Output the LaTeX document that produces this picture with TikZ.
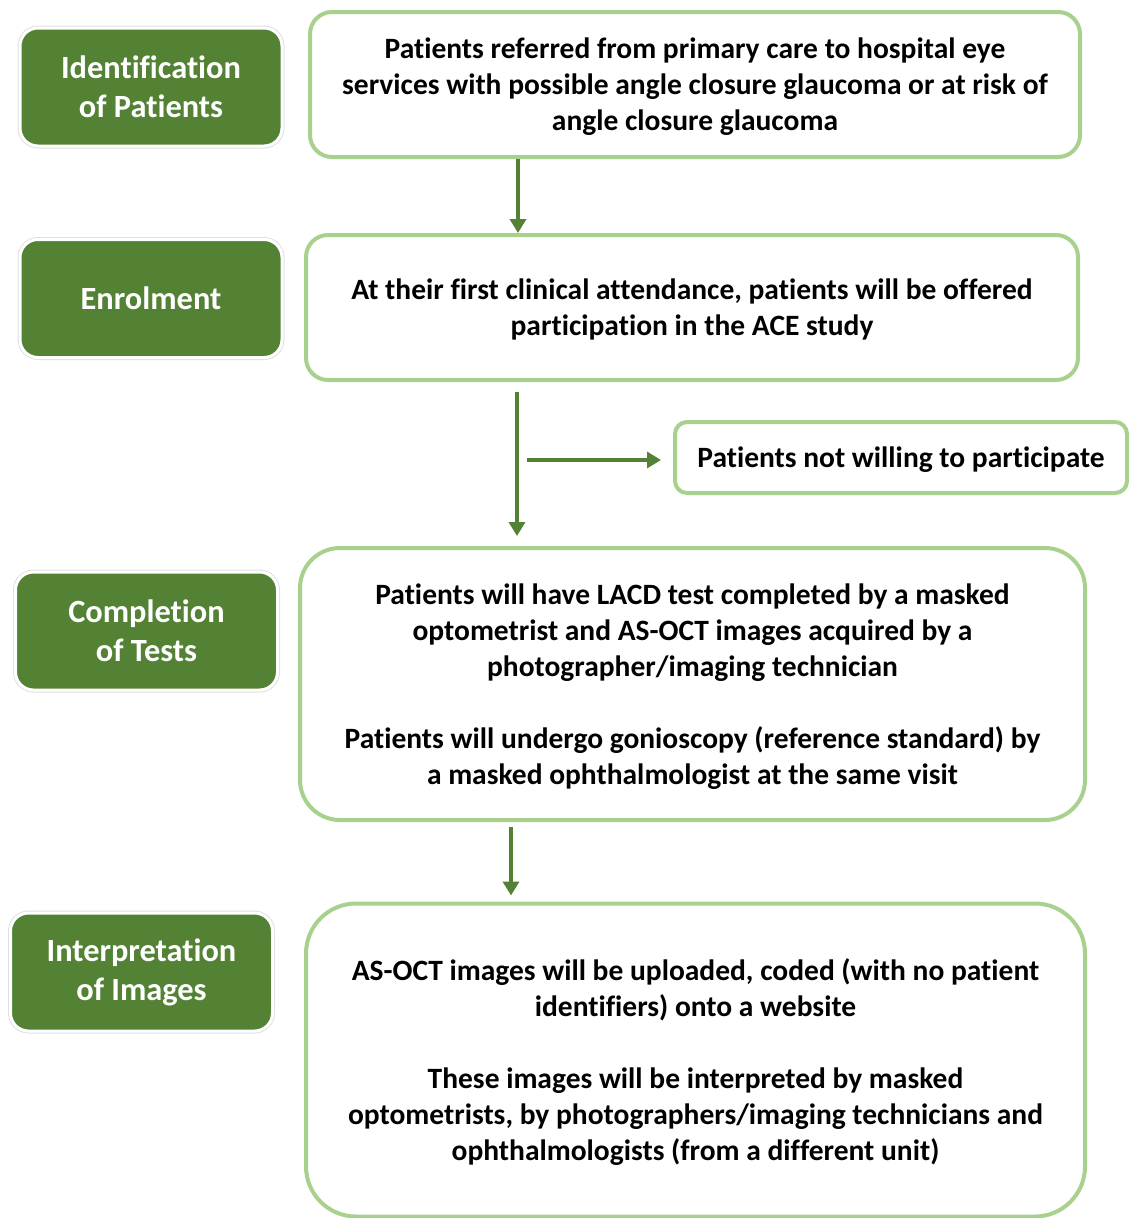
\documentclass[tikz,border=0pt]{standalone}
\usepackage{fontspec}
\setmainfont{Carlito}[Ligatures=NoCommon]
\usetikzlibrary{arrows.meta}
\definecolor{dkgreen}{HTML}{548235}
\definecolor{ltgreen}{HTML}{A9D18E}
\begin{document}
\begin{tikzpicture}[x=1pt,y=1pt,
  stage/.style={fill=dkgreen, draw=white, line width=3pt, rounded corners=18pt,
    preaction={draw=black!12, line width=5pt},
    minimum width=262pt, minimum height=118pt, inner sep=0pt, align=center,
    text=white, font=\fontsize{32.4}{39}\selectfont\bfseries},
  infobox/.style={fill=white, draw=ltgreen, line width=4pt, inner sep=0pt, align=center,
    text depth=-6pt, text=black, font=\fontsize{29.5}{36}\selectfont\bfseries},
  flow/.style={draw=dkgreen, line width=4pt, -{Triangle[width=16pt,length=14pt]}}]

\useasboundingbox (0,0) rectangle (1129,-1218);

\node (ident) at (151,-87) [stage] {Identification\\of Patients};
\node (enrol) at (151,-298.5) [stage] {Enrolment};
\node (compl) at (146.5,-631) [stage] {Completion\\of Tests};
\node (interp) at (141.5,-972) [stage] {Interpretation\\of Images};

\node (referral) at (695,-84.5) [infobox, minimum width=770pt, minimum height=145pt, rounded corners=22pt]
  {Patients referred from primary care to hospital eye\\services with possible angle closure glaucoma or at risk of\\angle closure glaucoma};
\node (attend) at (692,-307.5) [infobox, minimum width=772pt, minimum height=145pt, rounded corners=22pt]
  {At their first clinical attendance, patients will be offered\\participation in the ACE study};
\node (decline) at (901,-457.5) [infobox, minimum width=452pt, minimum height=71pt, rounded corners=12pt]
  {Patients not willing to participate};
\node (tests) at (692.5,-684) [infobox, minimum width=785pt, minimum height=272pt, rounded corners=40pt]
  {Patients will have LACD test completed by a masked\\optometrist and AS-OCT images acquired by a\\photographer/imaging technician\\[36pt]Patients will undergo gonioscopy (reference standard) by\\a masked ophthalmologist at the same visit};
\node (upload) at (695.5,-1060) [infobox, minimum width=779pt, minimum height=313pt, rounded corners=50pt]
  {AS-OCT images will be uploaded, coded (with no patient\\identifiers) onto a website\\[36pt]These images will be interpreted by masked\\optometrists, by photographers/imaging technicians and\\ophthalmologists (from a different unit)};

\coordinate (a1) at (518,0);
\coordinate (a2) at (517,0);
\coordinate (a3) at (511,0);
\coordinate (split) at (527,-460);

\draw [flow] (referral.south -| a1) -- (attend.north -| a1);
\draw [flow, shorten <=10pt, shorten >=10pt] (attend.south -| a2) -- (tests.north -| a2);
\draw [flow, shorten >=12pt] (split) -- (split -| decline.west);
\draw [flow, shorten <=5pt, shorten >=6pt] (tests.south -| a3) -- (upload.north -| a3);

\end{tikzpicture}
\end{document}
